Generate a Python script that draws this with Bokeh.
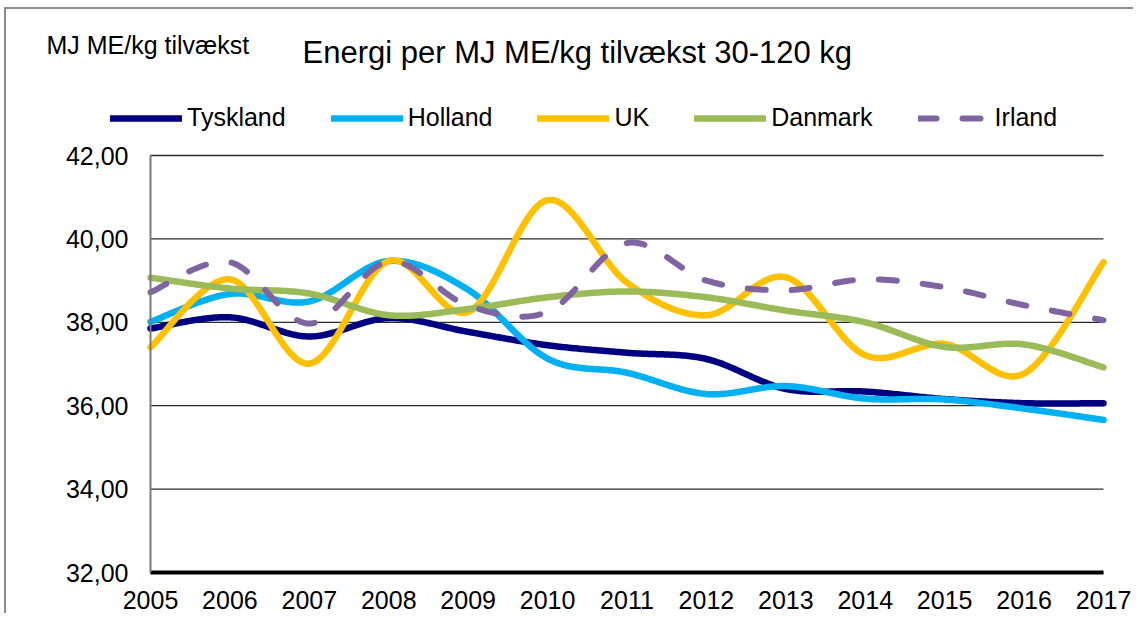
import numpy as np
from bokeh.plotting import figure
from bokeh.models import Range1d, Label, Legend, LegendItem, FixedTicker
from bokeh.embed import file_html
from bokeh.resources import INLINE

# ---- data ----
years = [2005, 2006, 2007, 2008, 2009, 2010, 2011, 2012, 2013, 2014, 2015, 2016, 2017]
tyskland = [37.85, 38.12, 37.66, 38.10, 37.77, 37.45, 37.27, 37.12, 36.40, 36.34, 36.16, 36.06, 36.06]
holland = [38.01, 38.68, 38.50, 39.47, 38.78, 37.13, 36.79, 36.28, 36.47, 36.17, 36.15, 35.93, 35.66]
uk = [37.40, 39.03, 37.01, 39.47, 38.25, 40.93, 38.95, 38.17, 39.08, 37.21, 37.48, 36.77, 39.44]
danmark = [39.07, 38.81, 38.69, 38.17, 38.32, 38.60, 38.74, 38.60, 38.28, 38.00, 37.41, 37.47, 36.92]
irland = [38.72, 39.44, 37.97, 39.46, 38.40, 38.25, 39.90, 39.00, 38.77, 39.03, 38.84, 38.41, 38.05]
series_names = ["Tyskland", "Holland", "UK", "Danmark", "Irland"]
y_ticks = [32, 34, 36, 38, 40, 42]
y_tick_labels = ["32,00", "34,00", "36,00", "38,00", "40,00", "42,00"]
title_text = "Energi per MJ ME/kg tilvækst 30-120 kg"
unit_text = "MJ ME/kg tilvækst"

FONT = "Liberation Sans"

# ---- layout geometry (pixels) ----
W, H = 1133, 613
PX_LEFT, PX_RIGHT = 150, 1103     # first / last year
PX_TOP, PX_BOTTOM = 155, 572      # top / bottom of value axis

ppx = (PX_RIGHT - PX_LEFT) / (years[-1] - years[0])
ppy = (PX_BOTTOM - PX_TOP) / (y_ticks[-1] - y_ticks[0])
x_start = years[0] - PX_LEFT / ppx
x_end = years[0] + (W - PX_LEFT) / ppx
y_start = y_ticks[0] - (H - PX_BOTTOM) / ppy
y_end = y_ticks[0] + PX_BOTTOM / ppy


def excel_smooth(xs, ys, steps=40):
    """Smoothed (Bezier) path through the data points, like Excel's smoothed line."""
    xs = np.asarray(xs, float)
    ys = np.asarray(ys, float)
    n = len(xs)
    ox, oy = [], []
    for i in range(n - 1):
        a = i - 1 if i > 0 else i
        d = i + 2 if i + 2 < n else i + 1
        c1x = xs[i] + (xs[i + 1] - xs[a]) / 6.0
        c1y = ys[i] + (ys[i + 1] - ys[a]) / 6.0
        c2x = xs[i + 1] - (xs[d] - xs[i]) / 6.0
        c2y = ys[i + 1] - (ys[d] - ys[i]) / 6.0
        t = np.linspace(0, 1, steps, endpoint=(i == n - 2))
        mt = 1 - t
        ox.extend(mt**3 * xs[i] + 3 * mt**2 * t * c1x + 3 * mt * t**2 * c2x + t**3 * xs[i + 1])
        oy.extend(mt**3 * ys[i] + 3 * mt**2 * t * c1y + 3 * mt * t**2 * c2y + t**3 * ys[i + 1])
    return ox, oy


p = figure(
    width=W, height=H,
    x_range=Range1d(x_start, x_end), y_range=Range1d(y_start, y_end),
    output_backend="svg", toolbar_location=None,
    min_border=0, min_border_left=0, min_border_right=0, min_border_top=0, min_border_bottom=0,
)
p.styles = {
    "background": ("linear-gradient(#8c8c8c, #8c8c8c) 5px 7px / 1300px 2px no-repeat, "
                   "linear-gradient(#8c8c8c, #8c8c8c) 4px 7px / 2px 800px no-repeat, #ffffff"),
    "border": "0",
    "outline": "none",
    "box-shadow": "none",
}
p.outline_line_color = None
p.background_fill_alpha = 0
p.border_fill_alpha = 0

# axes placed at the data edges
p.xaxis.fixed_location = y_ticks[0]
p.xaxis.bounds = (years[0], years[-1])
p.yaxis.fixed_location = years[0]
p.yaxis.bounds = (y_ticks[0], y_ticks[-1])
p.xaxis.ticker = FixedTicker(ticks=years)
p.xaxis.major_label_overrides = {y: str(y) for y in years}
p.yaxis.ticker = FixedTicker(ticks=y_ticks)
p.yaxis.major_label_overrides = {t: l for t, l in zip(y_ticks, y_tick_labels)}
for ax in (p.xaxis, p.yaxis):
    ax.major_tick_line_color = None
    ax.minor_tick_line_color = None
    ax.major_tick_out = 0
    ax.major_tick_in = 0
    ax.major_label_text_font = FONT
    ax.major_label_text_font_size = "25px"
    ax.major_label_text_color = "black"
p.xaxis.axis_line_color = "black"
p.xaxis.axis_line_width = 4
p.xaxis.major_label_standoff = 18
p.yaxis.axis_line_color = "#7a7a7a"
p.yaxis.axis_line_width = 2
p.yaxis.major_label_standoff = 22

p.xgrid.visible = False
p.ygrid.visible = False
# horizontal gridlines at the value ticks, spanning the year range
p.segment(x0=[years[0]] * len(y_ticks), x1=[years[-1]] * len(y_ticks),
          y0=y_ticks, y1=y_ticks, line_color="#2b2b2b", line_width=1.3)

colors = ["#000080", "#00B0F0", "#FFC000", "#9BBB59", "#8064A2"]
data = [tyskland, holland, uk, danmark, irland]
renderers = []
for name, vals, col in zip(series_names, data, colors):
    sx, sy = excel_smooth(years, vals)
    if name == "Irland":
        r = p.line(sx, sy, line_color=col, line_width=6, line_dash="18 26",
                   line_cap="round", line_join="round")
    else:
        r = p.line(sx, sy, line_color=col, line_width=6.5,
                   line_cap="round", line_join="round")
    renderers.append(r)

legend = Legend(
    items=[LegendItem(label=n, renderers=[r]) for n, r in zip(series_names, renderers)],
    orientation="horizontal", location=(110, 481),
    glyph_width=72, glyph_height=20, label_standoff=5, spacing=45,
    padding=0, margin=0, border_line_color=None, background_fill_alpha=0,
    label_text_font=FONT, label_text_font_size="25px", label_text_color="black",
)
p.add_layout(legend)

p.add_layout(Label(x=302, y=561, x_units="screen", y_units="screen", text=title_text,
                   text_font=FONT, text_font_size="31px", text_color="black",
                   text_baseline="alphabetic"))
p.add_layout(Label(x=46, y=569, x_units="screen", y_units="screen", text=unit_text,
                   text_font=FONT, text_font_size="25px", text_color="black",
                   text_baseline="alphabetic"))

open("out.html", "w").write(file_html(p, INLINE))
